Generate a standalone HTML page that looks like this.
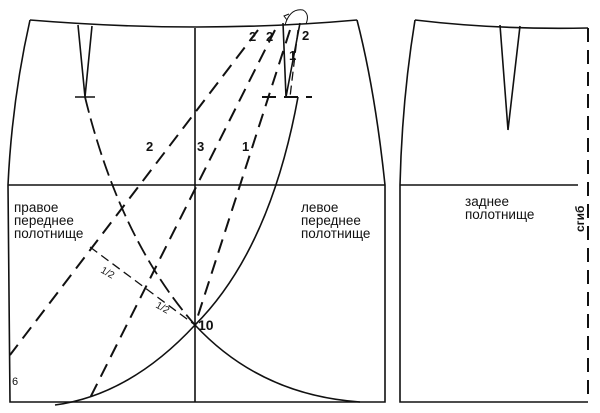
<!DOCTYPE html>
<html><head><meta charset="utf-8"><style>
html,body{margin:0;padding:0;background:#fff;}
svg{display:block}
text{font-family:"Liberation Sans",sans-serif;fill:#111}
</style></head><body>
<svg width="600" height="413" viewBox="0 0 600 413" xmlns="http://www.w3.org/2000/svg">
<g fill="none" stroke="#111" stroke-width="1.6">
<path d="M30,20 Q12,100 8,185 L10,402 L385,402 L385,185 Q375,90 357,20"/>
<path d="M30,20 Q200,34 357,20"/>
<line x1="8" y1="185" x2="385" y2="185"/>
<line x1="195" y1="28" x2="195" y2="402"/>
<path d="M78,25 L85,97 L92,26"/>
<line x1="75" y1="97" x2="95" y2="97"/>
<path d="M283,23 L286,97 L300,23"/>
<path d="M298,97 Q270,250 195,325"/>
<path d="M195,325 Q130,395 55,405"/>
<path d="M195,325 Q260,395 360,402"/>
<path d="M415,20 Q402,100 400,185 L400,402 L588,402"/>
<path d="M415,20 Q500,30 588,28"/>
<path d="M500,25 L508,130 L520,26"/>
<line x1="400" y1="185" x2="578" y2="185"/>
</g>
<g fill="none" stroke="#111" stroke-width="2" stroke-dasharray="14,8">
<line x1="290" y1="30" x2="195" y2="325"/>
<line x1="275" y1="30" x2="90" y2="398"/>
<line x1="258" y1="30" x2="10" y2="355"/>
<line x1="588" y1="28" x2="588" y2="402"/>
<line x1="262" y1="97" x2="312" y2="97"/>
<path d="M85,97 Q120,240 195,325" stroke-width="1.8" stroke-dasharray="16,6"/>
</g>
<g fill="none" stroke="#111" stroke-width="1.3" stroke-dasharray="9,5">
<line x1="90" y1="247" x2="195" y2="325"/>
<line x1="298" y1="30" x2="290" y2="97"/>
</g>
<path d="M285,25 Q290,8 303,10 Q310,14 306,24" fill="none" stroke="#111" stroke-width="1"/>
<path d="M289,14 l-5,2 l3,4" fill="none" stroke="#111" stroke-width="1"/>
<g font-size="13.5">
<text x="14" y="212">правое</text>
<text x="14" y="225">переднее</text>
<text x="14" y="238">полотнище</text>
<text x="301" y="212">левое</text>
<text x="301" y="225">переднее</text>
<text x="301" y="238">полотнище</text>
<text x="465" y="206">заднее</text>
<text x="465" y="219">полотнище</text>
</g>
<g font-size="13" font-weight="bold">
<text x="146" y="151">2</text>
<text x="197" y="151">3</text>
<text x="242" y="151">1</text>
<text x="249" y="41">2</text>
<text x="266" y="41">2</text>
<text x="302" y="40">2</text>
<text x="289" y="60">1</text>
<text x="198" y="330" font-size="14">10</text>
</g>
<text x="12" y="385" font-size="11">6</text>
<text x="100" y="272" font-size="10" transform="rotate(30 100 272)">1/2</text>
<text x="155" y="307" font-size="10" transform="rotate(30 155 307)">1/2</text>
<text x="584" y="232" font-size="12" font-weight="bold" transform="rotate(-90 584 232)">сгиб</text>
</svg>
</body></html>
